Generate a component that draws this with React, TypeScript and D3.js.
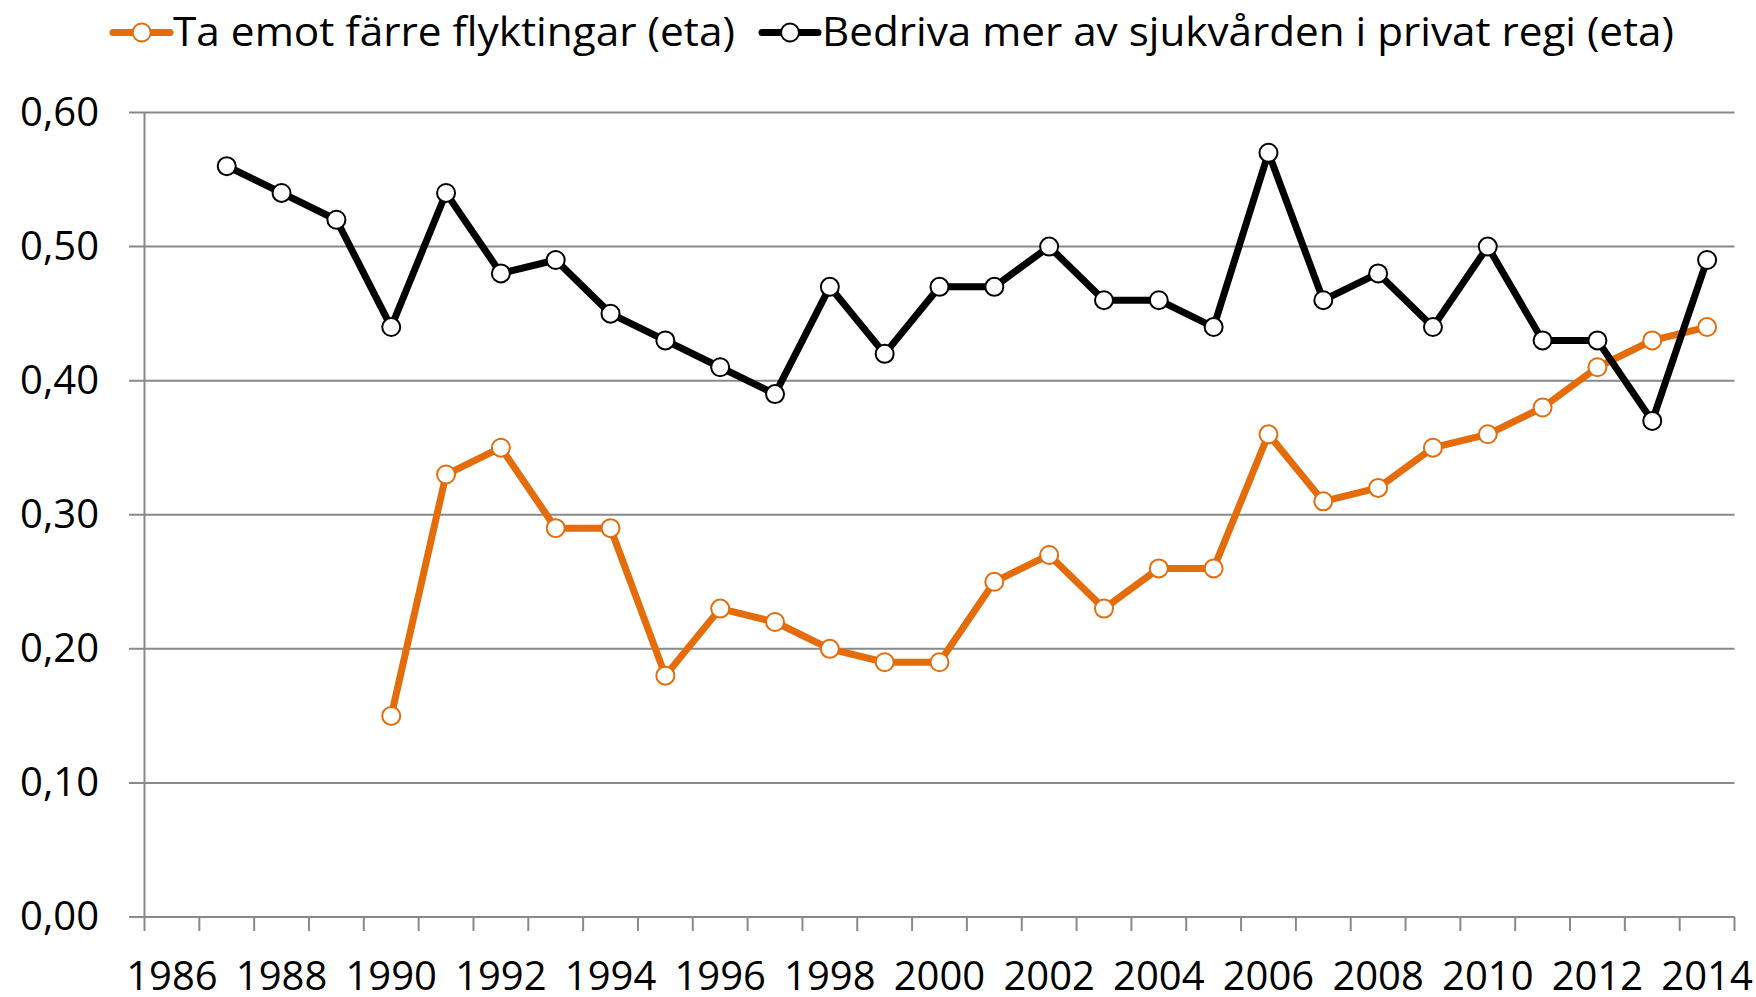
import React from "react";
import * as d3 from "d3";

const years: number[] = d3.range(1986, 2015);
const tickYearLabels: string[] = ["1986","1988","1990","1992","1994","1996","1998","2000","2002","2004","2006","2008","2010","2012","2014"];
const yTicks: number[] = [0, 0.1, 0.2, 0.3, 0.4, 0.5, 0.6];

const seriesNames: string[] = ["Ta emot färre flyktingar (eta)", "Bedriva mer av sjukvården i privat regi (eta)"];
const seriesColors: string[] = ["#E46C0A", "#000000"];

const refugeeYears: number[] = [1990,1991,1992,1993,1994,1995,1996,1997,1998,1999,2000,2001,2002,2003,2004,2005,2006,2007,2008,2009,2010,2011,2012,2013,2014];
const refugeeValues: number[] = [0.15,0.33,0.35,0.29,0.29,0.18,0.23,0.22,0.20,0.19,0.19,0.25,0.27,0.23,0.26,0.26,0.36,0.31,0.32,0.35,0.36,0.38,0.41,0.43,0.44];

const healthYears: number[] = [1987,1988,1989,1990,1991,1992,1993,1994,1995,1996,1997,1998,1999,2000,2001,2002,2003,2004,2005,2006,2007,2008,2009,2010,2011,2012,2013,2014];
const healthValues: number[] = [0.56,0.54,0.52,0.44,0.54,0.48,0.49,0.45,0.43,0.41,0.39,0.47,0.42,0.47,0.47,0.50,0.46,0.46,0.44,0.57,0.46,0.48,0.44,0.50,0.43,0.43,0.37,0.49];

const W = 1756;
const H = 997;
const FONT = "'Open Sans', 'Liberation Sans', sans-serif";

export default function App() {
  const x = d3.scaleBand<string>().domain(years.map(String)).range([144.5, 1734.5]).padding(0);
  const y = d3.scaleLinear().domain([0, 0.6]).range([917, 112.5]);
  const cx = (yr: number) => (x(String(yr)) as number) + x.bandwidth() / 2;
  const line = d3.line<[number, number]>().x(d => cx(d[0])).y(d => y(d[1]));

  const series = [
    { name: seriesNames[0], color: seriesColors[0], pts: refugeeYears.map((yr, i) => [yr, refugeeValues[i]] as [number, number]) },
    { name: seriesNames[1], color: seriesColors[1], pts: healthYears.map((yr, i) => [yr, healthValues[i]] as [number, number]) },
  ];

  const boundaries = years.map(yr => x(String(yr)) as number).concat([x.range()[1]]);
  const grid = "#898989";

  const legend = [
    { lx0: 113, lx1: 170, cxm: 141.7, tx: 173, tlen: 562 },
    { lx0: 762, lx1: 818, cxm: 790, tx: 822, tlen: 852 },
  ];

  return (
    <svg width={W} height={H} style={{ display: "block", position: "absolute", left: 0, top: 0 }} fontFamily={FONT}>
      <rect width={W} height={H} fill="#ffffff" />
      {yTicks.map(t => (
        <line key={"g" + t} x1={129} x2={1734.5} y1={y(t)} y2={y(t)} stroke={grid} strokeWidth={2} />
      ))}
      <line x1={144.5} x2={144.5} y1={y(0.6)} y2={y(0)} stroke={grid} strokeWidth={2} />
      {boundaries.map((b, i) => (
        <line key={"t" + i} x1={b} x2={b} y1={y(0)} y2={931} stroke={grid} strokeWidth={2} />
      ))}
      {yTicks.map(t => (
        <text key={"yl" + t} x={99} y={y(t) + 13} textAnchor="end" fontSize={40} fill="#000">
          {d3.format(".2f")(t).replace(".", ",")}
        </text>
      ))}
      {tickYearLabels.map(l => (
        <text key={"xl" + l} x={cx(+l)} y={990} textAnchor="middle" fontSize={40} fill="#000">
          {l}
        </text>
      ))}
      {series.map(s => (
        <g key={s.name}>
          <path d={line(s.pts) || ""} fill="none" stroke={s.color} strokeWidth={7} strokeLinejoin="round" strokeLinecap="round" />
          {s.pts.map(p => (
            <circle key={p[0]} cx={cx(p[0])} cy={y(p[1])} r={9} fill="#fff" stroke={s.color} strokeWidth={2} />
          ))}
        </g>
      ))}
      {series.map((s, i) => (
        <g key={"lg" + i}>
          <line x1={legend[i].lx0} x2={legend[i].lx1} y1={32.5} y2={32.5} stroke={s.color} strokeWidth={7} strokeLinecap="round" />
          <circle cx={legend[i].cxm} cy={32.5} r={9} fill="#fff" stroke={s.color} strokeWidth={2} />
          <text x={legend[i].tx} y={46} fontSize={41} fill="#000" textLength={legend[i].tlen} lengthAdjust="spacingAndGlyphs">
            {s.name}
          </text>
        </g>
      ))}
    </svg>
  );
}
